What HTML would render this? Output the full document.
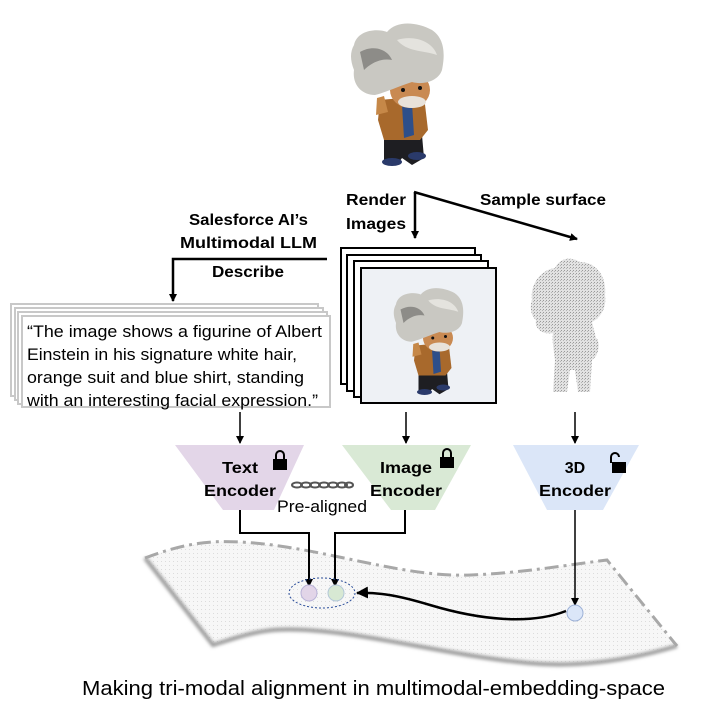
<!DOCTYPE html>
<html><head><meta charset="utf-8"><style>
html,body{margin:0;padding:0;background:#fff;}
svg{display:block;}
text{font-family:"Liberation Sans",Arial,sans-serif;}
.b{font-weight:bold;font-size:16px;fill:#000;}
</style></head><body>
<svg width="720" height="720" viewBox="0 0 720 720" xmlns="http://www.w3.org/2000/svg">
<defs>
<marker id="ah" markerWidth="8" markerHeight="8" refX="7" refY="4" orient="auto" markerUnits="userSpaceOnUse"><path d="M0,0 L8,4 L0,8 z" fill="#000"/></marker>
<marker id="ahb" markerWidth="12" markerHeight="12" refX="11" refY="6" orient="auto" markerUnits="userSpaceOnUse"><path d="M0,0 L12,6 L0,12 z" fill="#000"/></marker>
<pattern id="dots" width="3" height="3" patternUnits="userSpaceOnUse"><rect width="3" height="3" fill="#e2e2e2"/><rect x="0" y="0" width="1" height="1" fill="#9a9a9a"/><rect x="2" y="1" width="1" height="1" fill="#b5b5b5"/></pattern>
<pattern id="sdots" width="4" height="4" patternUnits="userSpaceOnUse"><rect width="4" height="4" fill="#f7f7f7"/><rect x="1" y="1" width="1" height="1" fill="#dcdcdc"/></pattern>
<filter id="blur"><feGaussianBlur stdDeviation="1.5"/></filter>
<g id="fig">
  <path d="M392,135 L430,135 L432,158 L420,165 L410,158 L405,165 L392,162 Z" fill="#1e1e22"/>
  <ellipse cx="400" cy="162" rx="10" ry="4" fill="#2a3a6a"/>
  <ellipse cx="425" cy="156" rx="9" ry="4" fill="#2a3a6a"/>
  <path d="M388,100 L432,96 L436,130 L428,140 L392,140 L386,120 Z" fill="#a8692c"/>
  <path d="M410,105 L420,103 L422,135 L412,138 Z" fill="#2e4f8a"/>
  <path d="M385,98 L392,96 L396,112 L384,115 Z" fill="#c68848"/>
  <ellipse cx="418" cy="90" rx="20" ry="18" fill="#c98a52"/>
  <ellipse cx="420" cy="102" rx="14" ry="6" fill="#e8e2da"/>
  <circle cx="411" cy="90" r="2" fill="#111"/><circle cx="428" cy="88" r="2" fill="#111"/>
  <path d="M362,45 C365,30 385,28 395,32 C405,20 425,22 440,30 C455,40 452,60 450,70 C446,82 430,85 420,82 C410,85 395,92 383,95 C370,95 360,85 362,70 C358,60 358,52 362,45 Z" fill="#c9c8c2"/>
  <path d="M368,52 C380,45 395,48 400,60 C390,58 380,62 372,70 Z" fill="#8d8c88"/>
  <path d="M405,40 C420,35 440,40 445,55 C430,50 415,52 405,40 Z" fill="#e4e3de"/>
</g>
</defs>

<path d="M415,192 L415,238" stroke="#000" stroke-width="2.5" fill="none" marker-end="url(#ah)"/>
<path d="M414,192 L577,239" stroke="#000" stroke-width="2.5" fill="none" marker-end="url(#ah)"/>
<path d="M327,259 L173,259 L173,301" stroke="#000" stroke-width="2.5" fill="none" marker-end="url(#ah)"/>

<text class="b" x="346" y="205" textLength="60" lengthAdjust="spacingAndGlyphs">Render</text>
<text class="b" x="346" y="229" textLength="60" lengthAdjust="spacingAndGlyphs">Images</text>
<text class="b" x="480" y="205" textLength="126" lengthAdjust="spacingAndGlyphs">Sample surface</text>
<text class="b" x="189" y="225" textLength="119" lengthAdjust="spacingAndGlyphs">Salesforce AI’s</text>
<text class="b" x="180" y="248" textLength="137" lengthAdjust="spacingAndGlyphs">Multimodal LLM</text>
<text class="b" x="212" y="277" textLength="72" lengthAdjust="spacingAndGlyphs">Describe</text>

<rect x="11" y="304" width="307" height="92" fill="#fff" stroke="#c8c8c8" stroke-width="2"/>
<rect x="15" y="308" width="308" height="92" fill="#fff" stroke="#c8c8c8" stroke-width="2"/>
<rect x="18" y="312" width="309" height="92" fill="#fff" stroke="#c8c8c8" stroke-width="2"/>
<rect x="22" y="316" width="308" height="91" fill="#fff" stroke="#c8c8c8" stroke-width="2"/>
<g font-size="17" fill="#000">
<text x="27" y="337" textLength="295" lengthAdjust="spacingAndGlyphs">“The image shows a figurine of Albert</text>
<text x="27" y="360" textLength="270" lengthAdjust="spacingAndGlyphs">Einstein in his signature white hair,</text>
<text x="27" y="383" textLength="277" lengthAdjust="spacingAndGlyphs">orange suit and blue shirt, standing</text>
<text x="27" y="406" textLength="291" lengthAdjust="spacingAndGlyphs">with an interesting facial expression.”</text>
</g>

<rect x="341" y="248" width="134" height="136" fill="#fff" stroke="#000" stroke-width="2"/>
<rect x="347" y="255" width="134" height="136" fill="#fff" stroke="#000" stroke-width="2"/>
<rect x="354" y="261" width="134" height="136" fill="#fff" stroke="#000" stroke-width="2"/>
<rect x="361" y="268" width="135" height="135" fill="#eef1f5" stroke="#000" stroke-width="2"/>
<use href="#fig" transform="translate(393,287) scale(0.75) translate(-358,-22)"/>
<use href="#fig" transform="translate(-8,0)"/>

<g fill="url(#dots)">
<path d="M532,300 C530,285 540,270 555,268 C560,258 570,256 580,262 C595,262 607,275 605,295 C607,308 600,318 592,322 L596,338 C600,340 600,355 592,360 L590,392 L578,392 L575,370 L570,370 L567,392 L553,392 L555,360 C553,345 552,340 553,333 C545,335 534,330 536,320 C530,315 530,305 532,300 Z"/>
</g>

<path d="M240,412 L240,443" stroke="#000" stroke-width="1.5" marker-end="url(#ah)"/>
<path d="M406,412 L406,443" stroke="#000" stroke-width="1.5" marker-end="url(#ah)"/>
<path d="M575,412 L575,443" stroke="#000" stroke-width="1.5" marker-end="url(#ah)"/>

<path d="M175,445 L304,445 L274,510 L223,510 Z" fill="#e3d6e8"/>
<path d="M342,445 L471,445 L435,510 L391,510 Z" fill="#d9e9d5"/>
<path d="M513,445 L639,445 L603,510 L547,510 Z" fill="#dbe6f8"/>
<text class="b" x="240" y="473" text-anchor="middle" font-size="18" textLength="36" lengthAdjust="spacingAndGlyphs">Text</text>
<text class="b" x="240" y="496" text-anchor="middle" font-size="18" textLength="72" lengthAdjust="spacingAndGlyphs">Encoder</text>
<text class="b" x="406" y="473" text-anchor="middle" font-size="18" textLength="52" lengthAdjust="spacingAndGlyphs">Image</text>
<text class="b" x="406" y="496" text-anchor="middle" font-size="18" textLength="72" lengthAdjust="spacingAndGlyphs">Encoder</text>
<text class="b" x="575" y="473" text-anchor="middle" font-size="18">3D</text>
<text class="b" x="575" y="496" text-anchor="middle" font-size="18" textLength="72" lengthAdjust="spacingAndGlyphs">Encoder</text>

<g fill="none" stroke="#000" stroke-width="2">
<path d="M276,460 L276,455 A4,4 0 0 1 284,455 L284,460"/>
<path d="M443,458 L443,453 A4,4 0 0 1 451,453 L451,458"/>
<path d="M611,463 L611,457 A4,4 0 0 1 619,457" />
</g>
<rect x="273" y="459" width="14" height="11" fill="#000"/>
<rect x="440" y="457" width="14" height="11" fill="#000"/>
<rect x="612" y="462" width="14" height="11" fill="#000"/>

<g fill="none" stroke="#555" stroke-width="2">
<ellipse cx="297" cy="485" rx="5" ry="2.5"/><ellipse cx="306" cy="485" rx="5" ry="2.5"/>
<ellipse cx="315" cy="485" rx="5" ry="2.5"/><ellipse cx="324" cy="485" rx="5" ry="2.5"/>
<ellipse cx="333" cy="485" rx="5" ry="2.5"/><ellipse cx="342" cy="485" rx="5" ry="2.5"/>
<ellipse cx="349" cy="485" rx="4" ry="2.5"/>
</g>
<text x="277" y="512" font-size="17" textLength="90" lengthAdjust="spacingAndGlyphs">Pre-aligned</text>

<path d="M145,558 C180,545 205,540 240,542 C320,546 400,578 471,575 C520,573 560,566 607,560 L677,646 C630,660 580,668 528,663 C440,655 340,625 274,630 C250,632 230,640 213,645 Z" fill="url(#sdots)"/>
<path d="M145,558 L213,645 C230,640 250,632 274,630 C340,625 440,655 528,663 C580,668 630,660 677,646" fill="none" stroke="#9a9a9a" stroke-width="4" filter="url(#blur)"/>
<path d="M145,558 C180,545 205,540 240,542 C320,546 400,578 471,575 C520,573 560,566 607,560 L677,646" fill="none" stroke="#a8a8a8" stroke-width="3" stroke-dasharray="14,5,3,5"/>

<path d="M240,510 L240,533 L309,533 L309,586" fill="none" stroke="#000" stroke-width="2" marker-end="url(#ah)"/>
<path d="M405,510 L405,533 L335,533 L335,586" fill="none" stroke="#000" stroke-width="2" marker-end="url(#ah)"/>
<path d="M575,510 L575,605" fill="none" stroke="#000" stroke-width="1.5" marker-end="url(#ah)"/>

<ellipse cx="322" cy="593" rx="33" ry="15" fill="none" stroke="#2a4d9a" stroke-width="1" stroke-dasharray="2,2"/>
<ellipse cx="309" cy="593" rx="8" ry="8" fill="#e2d5e8" stroke="#b9b3d8" stroke-width="1"/>
<ellipse cx="336" cy="593" rx="8" ry="8" fill="#d7e8d3" stroke="#b3c7d8" stroke-width="1"/>
<circle cx="575" cy="613" r="8" fill="#dbe6f8" stroke="#9db1d6" stroke-width="1"/>
<path d="M566,611 C530,625 480,620 430,605 C400,596 380,592 357,593" fill="none" stroke="#000" stroke-width="2.5" marker-end="url(#ahb)"/>

<text x="82" y="695" font-size="20" textLength="583" lengthAdjust="spacingAndGlyphs">Making tri-modal alignment in multimodal-embedding-space</text>
</svg>
</body></html>
